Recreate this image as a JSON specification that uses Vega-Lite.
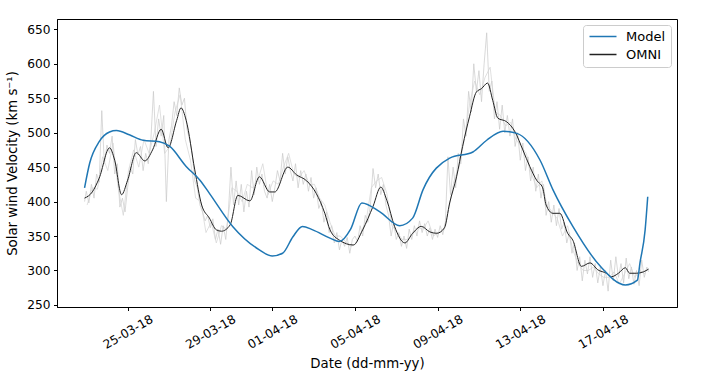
{
"$schema": "https://vega.github.io/schema/vega-lite/v6.json",
"autosize": {"type": "none"},
"width": 620,
"height": 288,
"padding": {"left": 57, "top": 19, "right": 35, "bottom": 72},
"background": "white",
"config": {
  "font": "DejaVu Sans",
  "view": {"stroke": "#000", "strokeWidth": 1},
  "axis": {"domainColor": "#000", "tickColor": "#000", "labelColor": "#000", "titleColor": "#000", "grid": false, "labelFontSize": 12.2, "titleFontSize": 13.3, "titleFontWeight": "normal", "tickSize": 3.5, "labelPadding": 3.5, "labelFont": "DejaVu Sans", "titleFont": "DejaVu Sans", "domainWidth": 1},
  "legend": {"orient": "none", "legendX": 526, "legendY": 6, "padding": 5, "fillColor": "white", "strokeColor": "#cccccc", "cornerRadius": 3, "labelFontSize": 13, "labelFont": "DejaVu Sans", "labelColor": "#000", "symbolType": "M-1,0H4.4", "symbolSize": 100, "rowPadding": 4, "labelOffset": 25}
},
"datasets": {
"model": [
{"t":"2018-03-22T22:00","v":420},{"t":"2018-03-23T04:00","v":456},{"t":"2018-03-23T15:00","v":487},{"t":"2018-03-24T03:00","v":501},{"t":"2018-03-24T11:00","v":503},{"t":"2018-03-25T02:00","v":497},{"t":"2018-03-25T18:00","v":489},{"t":"2018-03-26T13:00","v":487},{"t":"2018-03-27T01:00","v":480},{"t":"2018-03-27T20:00","v":451},{"t":"2018-03-28T12:00","v":431},{"t":"2018-03-28T23:00","v":412},{"t":"2018-03-30T02:00","v":364},{"t":"2018-03-31T09:00","v":330},{"t":"2018-04-01T00:00","v":321},{"t":"2018-04-01T12:00","v":325},{"t":"2018-04-02T00:00","v":349},{"t":"2018-04-02T11:00","v":364},{"t":"2018-04-02T23:00","v":359},{"t":"2018-04-03T19:00","v":347},{"t":"2018-04-04T06:00","v":342},{"t":"2018-04-04T19:00","v":360},{"t":"2018-04-05T08:00","v":398},{"t":"2018-04-06T05:00","v":385},{"t":"2018-04-07T04:00","v":365},{"t":"2018-04-07T19:00","v":376},{"t":"2018-04-08T07:00","v":417},{"t":"2018-04-09T14:00","v":463},{"t":"2018-04-10T17:00","v":472},{"t":"2018-04-11T09:00","v":489},{"t":"2018-04-12T04:00","v":502},{"t":"2018-04-12T20:00","v":499},{"t":"2018-04-13T23:00","v":460},{"t":"2018-04-14T14:00","v":417},{"t":"2018-04-15T13:00","v":364},{"t":"2018-04-16T21:00","v":306},{"t":"2018-04-18T02:00","v":279},{"t":"2018-04-18T16:00","v":286},{"t":"2018-04-18T19:00","v":311},{"t":"2018-04-19T01:00","v":359},{"t":"2018-04-19T04:00","v":407}
],
"omni": [
{"t":"2018-03-22T22:00","v":405},{"t":"2018-03-23T07:00","v":414},{"t":"2018-03-23T15:00","v":434},{"t":"2018-03-24T03:00","v":478},{"t":"2018-03-24T09:00","v":460},{"t":"2018-03-24T17:00","v":410},{"t":"2018-03-25T00:00","v":431},{"t":"2018-03-25T10:00","v":471},{"t":"2018-03-25T20:00","v":459},{"t":"2018-03-26T05:00","v":475},{"t":"2018-03-26T15:00","v":505},{"t":"2018-03-26T23:00","v":478},{"t":"2018-03-27T09:00","v":518},{"t":"2018-03-27T14:00","v":536},{"t":"2018-03-27T20:00","v":518},{"t":"2018-03-28T06:00","v":446},{"t":"2018-03-28T14:00","v":395},{"t":"2018-03-28T23:00","v":376},{"t":"2018-03-29T07:00","v":359},{"t":"2018-03-29T13:00","v":357},{"t":"2018-03-29T23:00","v":366},{"t":"2018-03-30T08:00","v":409},{"t":"2018-03-30T22:00","v":401},{"t":"2018-03-31T09:00","v":436},{"t":"2018-03-31T21:00","v":414},{"t":"2018-04-01T03:00","v":414},{"t":"2018-04-01T18:00","v":450},{"t":"2018-04-02T04:00","v":439},{"t":"2018-04-02T16:00","v":430},{"t":"2018-04-03T03:00","v":412},{"t":"2018-04-03T13:00","v":383},{"t":"2018-04-03T19:00","v":359},{"t":"2018-04-04T06:00","v":344},{"t":"2018-04-04T22:00","v":337},{"t":"2018-04-05T09:00","v":359},{"t":"2018-04-05T21:00","v":393},{"t":"2018-04-06T06:00","v":421},{"t":"2018-04-06T13:00","v":402},{"t":"2018-04-06T22:00","v":364},{"t":"2018-04-07T10:00","v":340},{"t":"2018-04-07T19:00","v":354},{"t":"2018-04-08T05:00","v":364},{"t":"2018-04-08T15:00","v":356},{"t":"2018-04-08T23:00","v":354},{"t":"2018-04-09T08:00","v":362},{"t":"2018-04-09T14:00","v":398},{"t":"2018-04-09T22:00","v":436},{"t":"2018-04-10T05:00","v":480},{"t":"2018-04-10T13:00","v":523},{"t":"2018-04-10T21:00","v":559},{"t":"2018-04-11T03:00","v":564},{"t":"2018-04-11T10:00","v":572},{"t":"2018-04-11T16:00","v":547},{"t":"2018-04-11T22:00","v":521},{"t":"2018-04-12T08:00","v":516},{"t":"2018-04-12T18:00","v":501},{"t":"2018-04-13T03:00","v":475},{"t":"2018-04-13T11:00","v":451},{"t":"2018-04-13T19:00","v":431},{"t":"2018-04-14T02:00","v":420},{"t":"2018-04-14T06:00","v":395},{"t":"2018-04-14T14:00","v":383},{"t":"2018-04-14T22:00","v":383},{"t":"2018-04-15T07:00","v":354},{"t":"2018-04-15T13:00","v":344},{"t":"2018-04-15T23:00","v":306},{"t":"2018-04-16T09:00","v":311},{"t":"2018-04-16T18:00","v":301},{"t":"2018-04-17T04:00","v":296},{"t":"2018-04-17T10:00","v":291},{"t":"2018-04-17T18:00","v":296},{"t":"2018-04-18T02:00","v":304},{"t":"2018-04-18T07:00","v":296},{"t":"2018-04-18T15:00","v":296},{"t":"2018-04-18T23:00","v":298},{"t":"2018-04-19T05:00","v":302}
],
"grayA": [
{"t":"2018-03-22T22:00","v":400},{"t":"2018-03-23T00:00","v":415},{"t":"2018-03-23T03:00","v":398},{"t":"2018-03-23T06:00","v":425},{"t":"2018-03-23T09:00","v":405},{"t":"2018-03-23T12:00","v":440},{"t":"2018-03-23T15:00","v":428},{"t":"2018-03-23T18:00","v":532},{"t":"2018-03-23T21:00","v":455},{"t":"2018-03-24T00:00","v":482},{"t":"2018-03-24T03:00","v":470},{"t":"2018-03-24T06:00","v":495},{"t":"2018-03-24T09:00","v":440},{"t":"2018-03-24T12:00","v":455},{"t":"2018-03-24T15:00","v":392},{"t":"2018-03-24T18:00","v":405},{"t":"2018-03-24T21:00","v":385},
{"t":"2018-03-25T00:00","v":420},{"t":"2018-03-25T03:00","v":450},{"t":"2018-03-25T06:00","v":440},{"t":"2018-03-25T09:00","v":490},{"t":"2018-03-25T12:00","v":468},{"t":"2018-03-25T15:00","v":480},{"t":"2018-03-25T18:00","v":445},{"t":"2018-03-25T21:00","v":470},
{"t":"2018-03-26T00:00","v":455},{"t":"2018-03-26T03:00","v":490},{"t":"2018-03-26T06:00","v":560},{"t":"2018-03-26T09:00","v":480},{"t":"2018-03-26T12:00","v":520},{"t":"2018-03-26T15:00","v":495},{"t":"2018-03-26T18:00","v":525},{"t":"2018-03-26T21:00","v":400},
{"t":"2018-03-27T00:00","v":490},{"t":"2018-03-27T03:00","v":510},{"t":"2018-03-27T06:00","v":545},{"t":"2018-03-27T09:00","v":525},{"t":"2018-03-27T12:00","v":565},{"t":"2018-03-27T15:00","v":540},{"t":"2018-03-27T18:00","v":550},{"t":"2018-03-27T21:00","v":505},
{"t":"2018-03-28T00:00","v":490},{"t":"2018-03-28T03:00","v":470},{"t":"2018-03-28T06:00","v":430},{"t":"2018-03-28T09:00","v":420},{"t":"2018-03-28T12:00","v":395},{"t":"2018-03-28T15:00","v":385},{"t":"2018-03-28T18:00","v":372},{"t":"2018-03-28T21:00","v":380},
{"t":"2018-03-29T00:00","v":362},{"t":"2018-03-29T03:00","v":375},{"t":"2018-03-29T06:00","v":345},{"t":"2018-03-29T09:00","v":360},{"t":"2018-03-29T12:00","v":338},{"t":"2018-03-29T15:00","v":365},{"t":"2018-03-29T18:00","v":345},{"t":"2018-03-29T21:00","v":385},
{"t":"2018-03-30T00:00","v":450},{"t":"2018-03-30T03:00","v":395},{"t":"2018-03-30T06:00","v":430},{"t":"2018-03-30T09:00","v":395},{"t":"2018-03-30T12:00","v":425},{"t":"2018-03-30T15:00","v":385},{"t":"2018-03-30T18:00","v":415},{"t":"2018-03-30T21:00","v":392},
{"t":"2018-03-31T00:00","v":445},{"t":"2018-03-31T03:00","v":410},{"t":"2018-03-31T06:00","v":450},{"t":"2018-03-31T09:00","v":425},{"t":"2018-03-31T12:00","v":440},{"t":"2018-03-31T15:00","v":415},{"t":"2018-03-31T18:00","v":405},{"t":"2018-03-31T21:00","v":425},
{"t":"2018-04-01T00:00","v":400},{"t":"2018-04-01T03:00","v":420},{"t":"2018-04-01T06:00","v":445},{"t":"2018-04-01T09:00","v":430},{"t":"2018-04-01T12:00","v":470},{"t":"2018-04-01T15:00","v":440},{"t":"2018-04-01T18:00","v":465},{"t":"2018-04-01T21:00","v":445},
{"t":"2018-04-02T00:00","v":430},{"t":"2018-04-02T03:00","v":455},{"t":"2018-04-02T06:00","v":420},{"t":"2018-04-02T09:00","v":445},{"t":"2018-04-02T12:00","v":425},{"t":"2018-04-02T15:00","v":440},{"t":"2018-04-02T18:00","v":415},{"t":"2018-04-02T21:00","v":435},
{"t":"2018-04-03T00:00","v":405},{"t":"2018-04-03T03:00","v":420},{"t":"2018-04-03T06:00","v":390},{"t":"2018-04-03T09:00","v":400},{"t":"2018-04-03T12:00","v":370},{"t":"2018-04-03T15:00","v":385},{"t":"2018-04-03T18:00","v":355},{"t":"2018-04-03T21:00","v":365},
{"t":"2018-04-04T00:00","v":340},{"t":"2018-04-04T03:00","v":355},{"t":"2018-04-04T06:00","v":330},{"t":"2018-04-04T09:00","v":345},{"t":"2018-04-04T12:00","v":335},{"t":"2018-04-04T15:00","v":348},{"t":"2018-04-04T18:00","v":325},{"t":"2018-04-04T21:00","v":345},
{"t":"2018-04-05T00:00","v":350},{"t":"2018-04-05T03:00","v":342},{"t":"2018-04-05T06:00","v":365},{"t":"2018-04-05T09:00","v":350},{"t":"2018-04-05T12:00","v":380},{"t":"2018-04-05T15:00","v":370},{"t":"2018-04-05T18:00","v":395},{"t":"2018-04-05T21:00","v":448},
{"t":"2018-04-06T00:00","v":420},{"t":"2018-04-06T03:00","v":440},{"t":"2018-04-06T06:00","v":410},{"t":"2018-04-06T09:00","v":425},{"t":"2018-04-06T12:00","v":395},{"t":"2018-04-06T15:00","v":380},{"t":"2018-04-06T18:00","v":350},{"t":"2018-04-06T21:00","v":370},
{"t":"2018-04-07T00:00","v":345},{"t":"2018-04-07T03:00","v":355},{"t":"2018-04-07T06:00","v":335},{"t":"2018-04-07T09:00","v":350},{"t":"2018-04-07T12:00","v":332},{"t":"2018-04-07T15:00","v":360},{"t":"2018-04-07T18:00","v":345},{"t":"2018-04-07T21:00","v":365},
{"t":"2018-04-08T00:00","v":350},{"t":"2018-04-08T03:00","v":372},{"t":"2018-04-08T06:00","v":355},{"t":"2018-04-08T09:00","v":368},{"t":"2018-04-08T12:00","v":350},{"t":"2018-04-08T15:00","v":362},{"t":"2018-04-08T18:00","v":345},{"t":"2018-04-08T21:00","v":360},
{"t":"2018-04-09T00:00","v":348},{"t":"2018-04-09T03:00","v":365},{"t":"2018-04-09T06:00","v":352},{"t":"2018-04-09T09:00","v":370},{"t":"2018-04-09T12:00","v":465},{"t":"2018-04-09T15:00","v":410},{"t":"2018-04-09T18:00","v":450},{"t":"2018-04-09T21:00","v":420},
{"t":"2018-04-10T00:00","v":470},{"t":"2018-04-10T03:00","v":455},{"t":"2018-04-10T06:00","v":520},{"t":"2018-04-10T09:00","v":495},{"t":"2018-04-10T12:00","v":560},{"t":"2018-04-10T15:00","v":530},{"t":"2018-04-10T18:00","v":600},{"t":"2018-04-10T21:00","v":560},
{"t":"2018-04-11T00:00","v":590},{"t":"2018-04-11T03:00","v":545},{"t":"2018-04-11T06:00","v":600},{"t":"2018-04-11T09:00","v":645},{"t":"2018-04-11T12:00","v":560},{"t":"2018-04-11T15:00","v":575},{"t":"2018-04-11T18:00","v":520},{"t":"2018-04-11T21:00","v":545},
{"t":"2018-04-12T00:00","v":505},{"t":"2018-04-12T03:00","v":540},{"t":"2018-04-12T06:00","v":500},{"t":"2018-04-12T09:00","v":525},{"t":"2018-04-12T12:00","v":495},{"t":"2018-04-12T15:00","v":520},{"t":"2018-04-12T18:00","v":480},{"t":"2018-04-12T21:00","v":500},
{"t":"2018-04-13T00:00","v":460},{"t":"2018-04-13T03:00","v":485},{"t":"2018-04-13T06:00","v":445},{"t":"2018-04-13T09:00","v":465},{"t":"2018-04-13T12:00","v":430},{"t":"2018-04-13T15:00","v":450},{"t":"2018-04-13T18:00","v":415},{"t":"2018-04-13T21:00","v":440},
{"t":"2018-04-14T00:00","v":405},{"t":"2018-04-14T03:00","v":425},{"t":"2018-04-14T06:00","v":380},{"t":"2018-04-14T09:00","v":400},{"t":"2018-04-14T12:00","v":370},{"t":"2018-04-14T15:00","v":395},{"t":"2018-04-14T18:00","v":365},{"t":"2018-04-14T21:00","v":390},
{"t":"2018-04-15T00:00","v":360},{"t":"2018-04-15T03:00","v":370},{"t":"2018-04-15T06:00","v":340},{"t":"2018-04-15T09:00","v":355},{"t":"2018-04-15T12:00","v":325},{"t":"2018-04-15T15:00","v":340},{"t":"2018-04-15T18:00","v":300},{"t":"2018-04-15T21:00","v":320},
{"t":"2018-04-16T00:00","v":285},{"t":"2018-04-16T03:00","v":315},{"t":"2018-04-16T06:00","v":295},{"t":"2018-04-16T09:00","v":320},{"t":"2018-04-16T12:00","v":290},{"t":"2018-04-16T15:00","v":310},{"t":"2018-04-16T18:00","v":282},{"t":"2018-04-16T21:00","v":305},
{"t":"2018-04-17T00:00","v":278},{"t":"2018-04-17T03:00","v":300},{"t":"2018-04-17T06:00","v":270},{"t":"2018-04-17T09:00","v":315},{"t":"2018-04-17T12:00","v":285},{"t":"2018-04-17T15:00","v":320},{"t":"2018-04-17T18:00","v":290},{"t":"2018-04-17T21:00","v":310},
{"t":"2018-04-18T00:00","v":282},{"t":"2018-04-18T03:00","v":318},{"t":"2018-04-18T06:00","v":288},{"t":"2018-04-18T09:00","v":305},{"t":"2018-04-18T12:00","v":280},{"t":"2018-04-18T15:00","v":300},{"t":"2018-04-18T18:00","v":278},{"t":"2018-04-18T21:00","v":315},
{"t":"2018-04-19T00:00","v":290},{"t":"2018-04-19T03:00","v":305},{"t":"2018-04-19T05:00","v":298}
],
"grayB": [
{"t":"2018-03-23T01:00","v":395},{"t":"2018-03-23T07:00","v":420},{"t":"2018-03-23T13:00","v":418},{"t":"2018-03-23T19:00","v":465},{"t":"2018-03-24T01:00","v":445},{"t":"2018-03-24T07:00","v":485},{"t":"2018-03-24T13:00","v":420},{"t":"2018-03-24T19:00","v":380},{"t":"2018-03-25T01:00","v":445},{"t":"2018-03-25T07:00","v":475},{"t":"2018-03-25T13:00","v":450},{"t":"2018-03-25T19:00","v":490},{"t":"2018-03-26T01:00","v":470},{"t":"2018-03-26T07:00","v":500},{"t":"2018-03-26T13:00","v":540},{"t":"2018-03-26T19:00","v":470},{"t":"2018-03-27T01:00","v":480},{"t":"2018-03-27T07:00","v":530},{"t":"2018-03-27T13:00","v":555},{"t":"2018-03-27T19:00","v":490},{"t":"2018-03-28T01:00","v":460},{"t":"2018-03-28T07:00","v":405},{"t":"2018-03-28T13:00","v":400},{"t":"2018-03-28T19:00","v":355},{"t":"2018-03-29T01:00","v":370},{"t":"2018-03-29T07:00","v":340},{"t":"2018-03-29T13:00","v":365},{"t":"2018-03-29T19:00","v":360},{"t":"2018-03-30T01:00","v":420},{"t":"2018-03-30T07:00","v":415},{"t":"2018-03-30T13:00","v":400},{"t":"2018-03-30T19:00","v":425},{"t":"2018-03-31T01:00","v":420},{"t":"2018-03-31T07:00","v":430},{"t":"2018-03-31T13:00","v":455},{"t":"2018-03-31T19:00","v":410},{"t":"2018-04-01T01:00","v":430},{"t":"2018-04-01T07:00","v":425},{"t":"2018-04-01T13:00","v":450},{"t":"2018-04-01T19:00","v":470},{"t":"2018-04-02T01:00","v":440},{"t":"2018-04-02T07:00","v":435},{"t":"2018-04-02T13:00","v":445},{"t":"2018-04-02T19:00","v":425},{"t":"2018-04-03T01:00","v":425},{"t":"2018-04-03T07:00","v":405},{"t":"2018-04-03T13:00","v":395},{"t":"2018-04-03T19:00","v":370},{"t":"2018-04-04T01:00","v":350},{"t":"2018-04-04T07:00","v":350},{"t":"2018-04-04T13:00","v":342},{"t":"2018-04-04T19:00","v":335},{"t":"2018-04-05T01:00","v":338},{"t":"2018-04-05T07:00","v":355},{"t":"2018-04-05T13:00","v":372},{"t":"2018-04-05T19:00","v":420},{"t":"2018-04-06T01:00","v":430},{"t":"2018-04-06T07:00","v":435},{"t":"2018-04-06T13:00","v":412},{"t":"2018-04-06T19:00","v":365},{"t":"2018-04-07T01:00","v":355},{"t":"2018-04-07T07:00","v":345},{"t":"2018-04-07T13:00","v":345},{"t":"2018-04-07T19:00","v":352},{"t":"2018-04-08T01:00","v":362},{"t":"2018-04-08T07:00","v":360},{"t":"2018-04-08T13:00","v":372},{"t":"2018-04-08T19:00","v":350},{"t":"2018-04-09T01:00","v":355},{"t":"2018-04-09T07:00","v":358},{"t":"2018-04-09T13:00","v":390},{"t":"2018-04-09T19:00","v":430},{"t":"2018-04-10T01:00","v":450},{"t":"2018-04-10T07:00","v":490},{"t":"2018-04-10T13:00","v":540},{"t":"2018-04-10T19:00","v":575},{"t":"2018-04-11T01:00","v":555},{"t":"2018-04-11T07:00","v":580},{"t":"2018-04-11T13:00","v":595},{"t":"2018-04-11T19:00","v":530},{"t":"2018-04-12T01:00","v":525},{"t":"2018-04-12T07:00","v":510},{"t":"2018-04-12T13:00","v":515},{"t":"2018-04-12T19:00","v":490},{"t":"2018-04-13T01:00","v":480},{"t":"2018-04-13T07:00","v":470},{"t":"2018-04-13T13:00","v":440},{"t":"2018-04-13T19:00","v":420},{"t":"2018-04-14T01:00","v":430},{"t":"2018-04-14T07:00","v":395},{"t":"2018-04-14T13:00","v":385},{"t":"2018-04-14T19:00","v":375},{"t":"2018-04-15T01:00","v":350},{"t":"2018-04-15T07:00","v":365},{"t":"2018-04-15T13:00","v":330},{"t":"2018-04-15T19:00","v":310},{"t":"2018-04-16T01:00","v":300},{"t":"2018-04-16T07:00","v":300},{"t":"2018-04-16T13:00","v":305},{"t":"2018-04-16T19:00","v":295},{"t":"2018-04-17T01:00","v":290},{"t":"2018-04-17T07:00","v":290},{"t":"2018-04-17T13:00","v":298},{"t":"2018-04-17T19:00","v":280},{"t":"2018-04-18T01:00","v":295},{"t":"2018-04-18T07:00","v":310},{"t":"2018-04-18T13:00","v":290},{"t":"2018-04-18T19:00","v":300},{"t":"2018-04-19T01:00","v":295}
]
},
"encoding": {
  "x": {"field": "t", "type": "temporal",
    "scale": {"domain": [{"year": 2018, "month": "mar", "date": 21, "hours": 14}, {"year": 2018, "month": "apr", "date": 20, "hours": 14}]},
    "axis": {"title": "Date (dd-mm-yy)", "format": "%d-%m-%y", "labelAngle": -30, "labelAlign": "center", "labelBaseline": "middle", "labelPadding": 21, "titlePadding": 6,
      "values": [{"year": 2018, "month": "mar", "date": 25}, {"year": 2018, "month": "mar", "date": 29}, {"year": 2018, "month": "apr", "date": 1}, {"year": 2018, "month": "apr", "date": 5}, {"year": 2018, "month": "apr", "date": 9}, {"year": 2018, "month": "apr", "date": 13}, {"year": 2018, "month": "apr", "date": 17}]}},
  "y": {"field": "v", "type": "quantitative",
    "scale": {"domain": [247, 665], "zero": false, "nice": false},
    "axis": {"title": "Solar wind Velocity (km s⁻¹)", "values": [250, 300, 350, 400, 450, 500, 550, 600, 650], "titlePadding": 7}}
},
"layer": [
  {"data": {"name": "grayA"}, "mark": {"type": "line", "color": "#c8c8c8", "strokeWidth": 0.7}},
  {"data": {"name": "grayB"}, "mark": {"type": "line", "color": "#d2d2d2", "strokeWidth": 0.7}},
  {"data": {"name": "omni"}, "mark": {"type": "line", "strokeWidth": 1, "interpolate": "monotone"},
   "encoding": {"color": {"datum": "OMNI", "type": "nominal", "scale": {"domain": ["Model", "OMNI"], "range": ["#1f77b4", "#222222"]}, "legend": {"title": null}}}},
  {"data": {"name": "model"}, "mark": {"type": "line", "strokeWidth": 1.5, "interpolate": "monotone"},
   "encoding": {"color": {"datum": "Model", "type": "nominal", "scale": {"domain": ["Model", "OMNI"], "range": ["#1f77b4", "#222222"]}, "legend": {"title": null}}}}
]
}
